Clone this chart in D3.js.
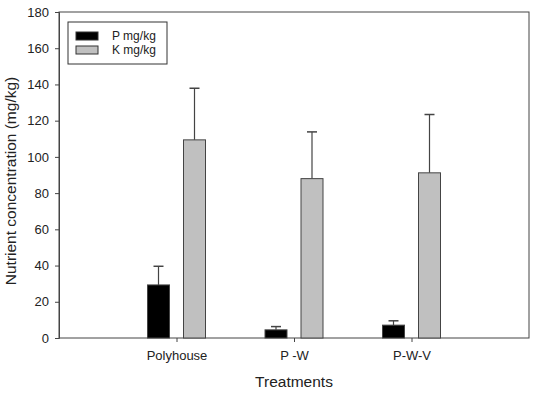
<!DOCTYPE html>
<meta charset="utf-8">
<script src="https://d3js.org/d3.v7.min.js"></script>
<style>
  body { margin: 0; background: #fff; }
  text { font-family: "Liberation Sans", Arial, sans-serif; fill: #222; }
</style>
<body>
<div id="canvas"></div>
<script>
  var treatments = ["Polyhouse", "P -W", "P-W-V"];
  var seriesNames = ["P mg/kg", "K mg/kg"];
  var pValues = [29.3, 4.5, 7.1];
  var pErrors = [10.3, 1.8, 2.4];
  var kValues = [109.4, 88.0, 91.2];
  var kErrors = [28.5, 25.8, 32.2];
  var yTicks = [0, 20, 40, 60, 80, 100, 120, 140, 160, 180];

  var width = 533, height = 393;
  var margin = {top: 12, right: 4, bottom: 55, left: 59};
  var w = width - margin.left - margin.right;
  var h = height - margin.top - margin.bottom;

  var svg = d3.select("#canvas").append("svg")
    .attr("width", width).attr("height", height);
  var g = svg.append("g")
    .attr("transform", "translate(" + margin.left + "," + margin.top + ")");

  var x = d3.scalePoint().domain(treatments).range([0, w]).padding(1);
  var y = d3.scaleLinear().domain([0, 180]).range([h, 0]);
  var color = d3.scaleOrdinal().domain(seriesNames).range(["#000000", "#c0c0c0"]);

  var barW = 22, offset = 18;
  var series = [
    {name: seriesNames[0], values: pValues, errors: pErrors, dx: -offset},
    {name: seriesNames[1], values: kValues, errors: kErrors, dx: offset}
  ];

  // frame
  g.append("rect").attr("width", w).attr("height", h)
    .attr("fill", "none").attr("stroke", "#444").attr("stroke-width", 1);

  // y axis
  var yAxis = g.append("g").call(d3.axisLeft(y).tickValues(yTicks).tickSize(4).tickPadding(6));
  yAxis.select(".domain").attr("stroke", "#444");
  yAxis.selectAll("line").attr("stroke", "#444");
  yAxis.selectAll("text").style("font-size", "13px").attr("fill", "#222");

  // x axis
  var xAxis = g.append("g").attr("transform", "translate(0," + h + ")")
    .call(d3.axisBottom(x).tickSize(4).tickPadding(9).tickSizeOuter(0));
  xAxis.select(".domain").remove();
  xAxis.selectAll("line").attr("stroke", "#444");
  xAxis.selectAll("text").style("font-size", "13px").attr("fill", "#222");

  series.forEach(function(s) {
    var grp = g.append("g");
    // error bars (upward only)
    grp.selectAll("line.err").data(treatments).enter().append("line")
      .attr("x1", function(d) { return x(d) + s.dx; })
      .attr("x2", function(d) { return x(d) + s.dx; })
      .attr("y1", function(d, i) { return y(s.values[i]); })
      .attr("y2", function(d, i) { return y(s.values[i] + s.errors[i]); })
      .attr("stroke", "#444").attr("stroke-width", 1.2);
    grp.selectAll("line.cap").data(treatments).enter().append("line")
      .attr("x1", function(d) { return x(d) + s.dx - 5; })
      .attr("x2", function(d) { return x(d) + s.dx + 5; })
      .attr("y1", function(d, i) { return y(s.values[i] + s.errors[i]); })
      .attr("y2", function(d, i) { return y(s.values[i] + s.errors[i]); })
      .attr("stroke", "#444").attr("stroke-width", 1.5);
    grp.selectAll("rect").data(treatments).enter().append("rect")
      .attr("x", function(d) { return x(d) + s.dx - barW / 2; })
      .attr("y", function(d, i) { return y(s.values[i]); })
      .attr("width", barW)
      .attr("height", function(d, i) { return h - y(s.values[i]); })
      .attr("fill", color(s.name))
      .attr("stroke", "#444").attr("stroke-width", 1);
  });

  // legend
  var leg = g.append("g").attr("transform", "translate(9,10)");
  leg.append("rect").attr("width", 99).attr("height", 42)
    .attr("fill", "#fff").attr("stroke", "#333").attr("stroke-width", 1);
  seriesNames.forEach(function(n, i) {
    leg.append("rect").attr("x", 8).attr("y", 10 + i * 14)
      .attr("width", 22).attr("height", 8)
      .attr("fill", color(n)).attr("stroke", "#333");
    leg.append("text").attr("x", 44).attr("y", 18 + i * 14)
      .style("font-size", "12px").text(n);
  });

  // axis titles
  svg.append("text")
    .attr("transform", "translate(16,181) rotate(-90)")
    .attr("text-anchor", "middle").style("font-size", "15.5px")
    .text("Nutrient concentration (mg/kg)");
  svg.append("text")
    .attr("x", 294).attr("y", 387)
    .attr("text-anchor", "middle").style("font-size", "15.5px")
    .text("Treatments");
</script>
</body>
